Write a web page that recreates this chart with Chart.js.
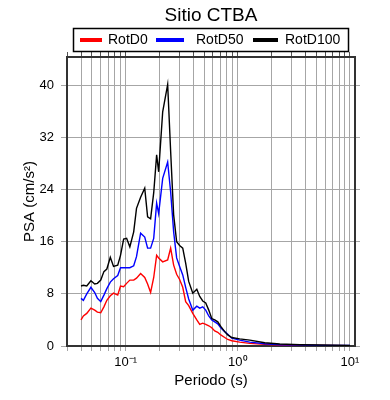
<!DOCTYPE html>
<html>
<head>
<meta charset="utf-8">
<script src="https://cdn.jsdelivr.net/npm/chart.js@4.4.1/dist/chart.umd.min.js"></script>
<style>
  html, body { margin: 0; padding: 0; background: #fff; }
  canvas { display: block; }
</style>
</head>
<body>
<canvas id="psaChart" width="390" height="400"></canvas>
<script>
// Periods (s) and spectral accelerations (cm/s^2)
const periods = [0.040, 0.042, 0.045, 0.049, 0.053, 0.056, 0.060, 0.064, 0.068, 0.073,
  0.078, 0.085, 0.090, 0.096, 0.102, 0.109, 0.118, 0.125, 0.136, 0.148,
  0.157, 0.167, 0.178, 0.189, 0.197, 0.214, 0.237, 0.252, 0.268, 0.285,
  0.303, 0.323, 0.343, 0.365, 0.397, 0.431, 0.458, 0.487, 0.518, 0.551,
  0.586, 0.623, 0.663, 0.705, 0.765, 0.814, 0.884, 1.04, 1.28, 1.74,
  2.37, 3.58, 5.40, 10.0];

const rotD0 = [4.0, 4.6, 5.0, 5.8, 5.5, 5.2, 5.1, 6.0, 7.0, 7.7,
  8.1, 7.8, 9.2, 9.1, 9.6, 10.1, 10.1, 10.4, 11.1, 10.5,
  9.5, 8.2, 10.5, 13.9, 13.5, 12.9, 13.2, 15.0, 12.4, 11.0,
  10.2, 9.0, 6.8, 6.2, 5.0, 4.0, 3.3, 3.5, 3.3, 3.1,
  2.8, 2.3, 2.1, 1.7, 1.3, 1.0, 0.8, 0.6, 0.4, 0.25,
  0.15, 0.1, 0.08, 0.05];

const rotD50 = [7.3, 7.0, 8.0, 9.0, 8.2, 7.3, 6.8, 7.8, 8.8, 9.8,
  10.3, 10.8, 12.0, 12.0, 12.0, 12.0, 12.3, 13.7, 17.3, 16.7,
  15.0, 15.0, 16.5, 21.9, 20.3, 25.7, 28.2, 23.6, 17.5, 13.5,
  12.2, 10.9, 9.0, 7.2, 5.5, 6.1, 5.8, 6.0, 5.5, 4.6,
  4.0, 3.7, 3.4, 2.8, 2.2, 1.8, 1.2, 0.9, 0.6, 0.35,
  0.2, 0.15, 0.1, 0.08];

const rotD100 = [9.2, 9.3, 9.2, 10.0, 9.5, 9.6, 10.1, 11.4, 11.8, 13.6,
  12.2, 12.4, 13.9, 16.4, 16.5, 15.2, 17.5, 21.1, 22.8, 24.2,
  19.8, 19.5, 23.5, 29.3, 26.7, 35.9, 40.1, 29.8, 20.1, 16.0,
  15.4, 15.0, 12.7, 9.9, 8.1, 8.7, 7.6, 6.9, 6.6, 5.5,
  4.2, 4.0, 3.7, 3.0, 2.2, 1.7, 1.3, 1.1, 0.9, 0.5,
  0.3, 0.2, 0.15, 0.1];

const seriesNames = ['RotD0', 'RotD50', 'RotD100'];
const seriesColors = ['#ff0000', '#0000ff', '#000000'];

// log axis grid: 1..9 x each decade, labels only on the decades
const xGridValues = [0.03, 0.04, 0.05, 0.06, 0.07, 0.08, 0.09,
  0.1, 0.2, 0.3, 0.4, 0.5, 0.6, 0.7, 0.8, 0.9,
  1, 2, 3, 4, 5, 6, 7, 8, 9, 10];
const xMajorValues = [0.1, 1, 10];
const xMajorLabels = ['10⁻¹', '10⁰', '10¹'];

const FONT = '"Liberation Sans", Arial, Helvetica, sans-serif';
const gridColor = '#a6a6a6';

const toPoints = vals => periods.map((p, i) => ({ x: p, y: vals[i] }));

// title + boxed legend on top
const headerPlugin = {
  id: 'header',
  afterDraw(chart) {
    const ctx = chart.ctx;
    const area = chart.chartArea;
    ctx.save();
    ctx.fillStyle = '#000';
    ctx.font = '19px ' + FONT;
    ctx.textAlign = 'center';
    ctx.textBaseline = 'alphabetic';
    ctx.fillText('Sitio CTBA', (area.left + area.right) / 2, 21);

    // legend box
    ctx.strokeStyle = '#000';
    ctx.lineWidth = 1.5;
    ctx.strokeRect(73.5, 28.5, 275, 23);

    const lineX = [80, 156, 253];
    const lineLen = [22, 28, 25];
    const textX = [108, 196, 285];
    ctx.font = '14px ' + FONT;
    ctx.textAlign = 'left';
    ctx.textBaseline = 'middle';
    seriesNames.forEach((name, i) => {
      ctx.strokeStyle = seriesColors[i];
      ctx.lineWidth = 4;
      ctx.beginPath();
      ctx.moveTo(lineX[i], 40);
      ctx.lineTo(lineX[i] + lineLen[i], 40);
      ctx.stroke();
      ctx.fillStyle = '#000';
      ctx.fillText(name, textX[i], 40.5);
    });
    ctx.restore();
  }
};

const setTicks = scale => {
  scale.ticks = xGridValues.map(v => ({ value: v }));
};

const xLabel = value => {
  const idx = xMajorValues.findIndex(v => Math.abs(v - value) < 1e-9);
  return idx >= 0 ? xMajorLabels[idx] : '';
};

new Chart(document.getElementById('psaChart'), {
  type: 'line',
  data: {
    datasets: [
      { label: seriesNames[0], data: toPoints(rotD0), borderColor: seriesColors[0], order: 3 },
      { label: seriesNames[1], data: toPoints(rotD50), borderColor: seriesColors[1], order: 2 },
      { label: seriesNames[2], data: toPoints(rotD100), borderColor: seriesColors[2], order: 1 }
    ]
  },
  options: {
    responsive: false,
    animation: false,
    layout: { padding: 0 },
    elements: {
      line: { borderWidth: 1.4, tension: 0, fill: false },
      point: { radius: 0 }
    },
    plugins: {
      legend: { display: false },
      title: { display: false },
      tooltip: { enabled: false }
    },
    scales: {
      x: {
        type: 'logarithmic',
        position: 'bottom',
        min: 0.03,
        max: 11.1,
        afterBuildTicks: setTicks,
        afterFit: s => { s.height = 54; },
        grid: { color: gridColor, lineWidth: 1, tickLength: 5 },
        border: { display: true, color: '#333', width: 2 },
        ticks: {
          autoSkip: false,
          maxRotation: 0,
          padding: 4,
          color: '#000',
          font: { family: FONT, size: 13 },
          callback: xLabel
        },
        title: {
          display: true,
          text: 'Periodo (s)',
          color: '#000',
          font: { family: FONT, size: 15 },
          padding: { top: 0, bottom: 10 }
        }
      },
      xTop: {
        type: 'logarithmic',
        position: 'top',
        min: 0.03,
        max: 11.1,
        afterBuildTicks: setTicks,
        afterFit: s => { s.height = 57; },
        grid: { drawOnChartArea: false, color: '#555', tickLength: 5 },
        border: { display: true, color: '#333', width: 2 },
        ticks: { display: false }
      },
      y: {
        position: 'left',
        min: 0,
        max: 44.3,
        afterFit: s => { s.width = 67; },
        grid: { color: gridColor, lineWidth: 1, tickLength: 6 },
        border: { display: true, color: '#333', width: 2 },
        ticks: {
          stepSize: 8,
          includeBounds: false,
          padding: 7,
          color: '#000',
          font: { family: FONT, size: 13 }
        },
        title: {
          display: true,
          text: 'PSA (cm/s²)',
          color: '#000',
          font: { family: FONT, size: 15 },
          padding: { top: 21, bottom: 0 }
        }
      },
      yRight: {
        position: 'right',
        min: 0,
        max: 44.3,
        afterFit: s => { s.width = 35; },
        grid: { drawOnChartArea: false, color: gridColor, tickLength: 5 },
        border: { display: true, color: '#333', width: 2 },
        ticks: { stepSize: 8, includeBounds: false, display: false }
      }
    }
  },
  plugins: [headerPlugin]
});
</script>
</body>
</html>
